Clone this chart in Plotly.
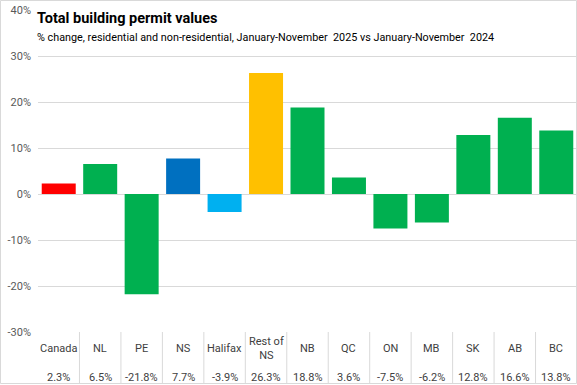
import plotly.graph_objects as go

categories = ["Canada", "NL", "PE", "NS", "Halifax", "Rest of<br>NS", "NB", "QC", "ON", "MB", "SK", "AB", "BC"]
values = [2.3, 6.5, -21.8, 7.7, -3.9, 26.3, 18.8, 3.6, -7.5, -6.2, 12.8, 16.6, 13.8]
colors = ["#FF0000", "#00B050", "#00B050", "#0070C0", "#00B0F0", "#FFC000",
          "#00B050", "#00B050", "#00B050", "#00B050", "#00B050", "#00B050", "#00B050"]
y_ticks = [-30, -20, -10, 0, 10, 20, 30, 40]
y_tick_text = ["-30%", "-20%", "-10%", "0%", "10%", "20%", "30%", "40%"]

W, H = 577, 385
ML, MR, MT, MB = 38, 0, 10, 53
plot_h = H - MT - MB
n = len(categories)
xs = list(range(n))

def py_to_paper(py):
    return 1 - (py - MT) / plot_h

fig = go.Figure(go.Bar(x=xs, y=values, marker_color=colors, marker_line_width=0,
                       width=0.82, hoverinfo="skip"))

font_fam = "Roboto, Liberation Sans, sans-serif"
annotations = [
    dict(text="<b>Total building permit values</b>", x=0, xref="paper", y=py_to_paper(18),
         yref="paper", xanchor="left", yanchor="middle", showarrow=False, xshift=-3,
         font=dict(size=14.5, color="#000000", family="Roboto, sans-serif")),
    dict(text="% change, residential and non-residential, January-November  2025 vs January-November  2024",
         x=0, xref="paper", y=py_to_paper(37), yref="paper", xanchor="left", yanchor="middle",
         showarrow=False, xshift=-3, font=dict(size=10.8, color="#000000", family=font_fam)),
]
for i, (c, v) in enumerate(zip(categories, values)):
    annotations.append(dict(text=c, x=(i + 0.5) / n, xref="paper", y=py_to_paper(348), yref="paper",
                            xanchor="center", yanchor="middle", showarrow=False,
                            font=dict(size=11, color="#404040", family=font_fam)))
    annotations.append(dict(text=f"{v:.1f}%", x=(i + 0.5) / n, xref="paper", y=py_to_paper(377),
                            yref="paper", xanchor="center", yanchor="middle", showarrow=False,
                            font=dict(size=11, color="#404040", family=font_fam)))

shapes = []
for i in range(1, n):
    shapes.append(dict(type="line", xref="paper", yref="paper", x0=i / n, x1=i / n,
                       y0=0, y1=py_to_paper(383), line=dict(color="#D9D9D9", width=1)))
# outer border
shapes.append(dict(type="rect", xref="paper", yref="paper",
                   x0=-(ML - 0.5) / (W - ML - MR), x1=1 - 0.5 / (W - ML - MR),
                   y0=py_to_paper(H - 1.5), y1=py_to_paper(0.5),
                   line=dict(color="#D9D9D9", width=1)))

fig.update_layout(
    width=W, height=H,
    margin=dict(l=ML, r=MR, t=MT, b=MB, pad=0),
    paper_bgcolor="white", plot_bgcolor="white",
    showlegend=False,
    bargap=0.18,
    xaxis=dict(range=[-0.5, n - 0.5], showticklabels=False, showgrid=False, zeroline=False,
               showline=False, ticks="", fixedrange=True),
    yaxis=dict(range=[-30, 40], tickmode="array", tickvals=y_ticks, ticktext=y_tick_text,
               showgrid=True,
               gridcolor="#D9D9D9", gridwidth=1, zeroline=True, zerolinecolor="#D9D9D9",
               zerolinewidth=1, showline=False, ticks="", ticklabelstandoff=6,
               tickfont=dict(size=11, color="#595959", family=font_fam)),
    annotations=annotations,
    shapes=shapes,
)

fig.write_html("out.html", config={"displayModeBar": False},
               post_script="document.body.style.margin='0px';")
